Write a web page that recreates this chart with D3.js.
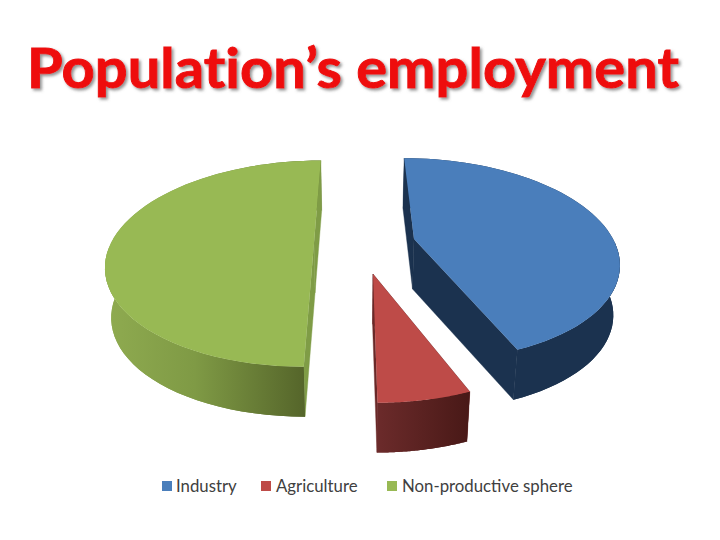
<!DOCTYPE html>
<html><head><meta charset="utf-8">
<script src="https://cdnjs.cloudflare.com/ajax/libs/d3/7.8.5/d3.min.js"></script>
<style>html,body{margin:0;padding:0;background:#fff}svg{display:block}</style>
</head><body><svg id="c" width="720" height="540"></svg>
<script>
const categories = ["Industry", "Agriculture", "Non-productive sphere"];
const shares = [44, 6, 50];
const titleText = "Population\u2019s employment";

const topColors = d3.scaleOrdinal(categories, ["#4a7ebb", "#be4b48", "#98b954"]);
const wallColors = d3.scaleOrdinal(categories, ["#1b324f", "#6a2928", "#7f9c46"]);
const apexX = d3.scaleOrdinal(categories, [414, 373, 314]);
const apexY = d3.scaleOrdinal(categories, [239, 274, 243]);
const radiusX = d3.scaleOrdinal(categories, [199, 205, 203]);
const radiusY = d3.scaleOrdinal(categories, [97, 103, 99]);
const legendX = d3.scaleOrdinal(categories, [162, 261, 387]);

const K = 0.2, DEPTH = 53, SHRINK = 0.975, VANISH_X = 355;
const svg = d3.select("#c");
const defs = svg.append("defs");

function grad(id, x1, x2, stops) {
  const g = defs.append("linearGradient").attr("id", id)
    .attr("gradientUnits", "userSpaceOnUse").attr("x1", x1).attr("x2", x2).attr("y1", 0).attr("y2", 0);
  stops.forEach(s => g.append("stop").attr("offset", s[0]).attr("stop-color", s[1]));
}
grad("gGreen", 105, 305, [[0, "#8fab50"], [0.45, "#7f9a45"], [1, "#55652a"]]);
grad("gRed", 376, 468, [[0, "#6c2b2b"], [1, "#491917"]]);
defs.append("filter").attr("id", "shadow").attr("x", "-5%").attr("y", "-20%").attr("width", "110%").attr("height", "140%")
  .append("feDropShadow").attr("dx", 2).attr("dy", 2).attr("stdDeviation", 1.5).attr("flood-color", "#777").attr("flood-opacity", 0.8);

const pie = d3.pie().value((d, i) => shares[i]).sort(null);
const arcs = pie(categories);
const line = d3.line();

function project(name, a, r, z) {
  const u = r * Math.sin(a), v = -r * Math.cos(a), w = 1 - K * v;
  const tilt = apexX(name) - VANISH_X;
  const x = VANISH_X + (radiusX(name) * u + tilt) / w;
  const y = apexY(name) + radiusY(name) * v / w;
  return z ? [VANISH_X + (x - VANISH_X) * SHRINK, y + radiusY(name) / (1 - K) * (SHRINK - 1) + DEPTH] : [x, y];
}
function arcPts(name, d, z) {
  return d3.range(0, 61).map(i => project(name, d.startAngle + (d.endAngle - d.startAngle) * i / 60, 1, z));
}
const wallFill = name => name === categories[2] ? "url(#gGreen)" : name === categories[1] ? "url(#gRed)" : wallColors(name);

const g = svg.append("g");
arcs.forEach(d => {
  const n = d.data;
  const top = arcPts(n, d, 0), bot = arcPts(n, d, 1);
  const cT = project(n, 0, 0, 0), cB = project(n, 0, 0, 1);
  const walls = [
    [cT, top[0], bot[0], cB],
    [cT, top[60], bot[60], cB]
  ];
  const gs = g.append("g").attr("class", "slice");
  gs.append("path").attr("class", "rim").attr("d", line(top.concat(bot.slice().reverse())) + "Z").attr("fill", wallFill(n));
  gs.selectAll("path.wall").data(walls).join("path").attr("class", "wall")
    .attr("d", w => line(w) + "Z").attr("fill", wallColors(n)).attr("stroke", wallColors(n)).attr("stroke-width", 0.4);
  // front-facing rim is repainted over the inner walls, only below the top face
  const front = d3.range(0, 61).filter(i => Math.cos(d.startAngle + (d.endAngle - d.startAngle) * i / 60) < 0);
  if (front.length) {
    const t = front.map(i => top[i]), b = front.map(i => bot[i]).reverse();
    gs.append("path").attr("class", "rim-front").attr("d", line(t.concat(b)) + "Z").attr("fill", wallFill(n));
  }
  gs.append("path").attr("class", "top").attr("d", line([cT].concat(top)) + "Z").attr("fill", topColors(n));
});

svg.append("text").attr("x", 27).attr("y", 88).attr("textLength", 652).attr("lengthAdjust", "spacingAndGlyphs")
  .attr("font-family", "Lato, sans-serif").attr("font-weight", 700).attr("font-size", 56)
  .style("font-variant-ligatures", "none")
  .attr("fill", "#ee0a0a").attr("stroke", "#ee0a0a").attr("stroke-width", 0.9).attr("filter", "url(#shadow)").text(titleText);

const leg = svg.append("g").selectAll("g").data(categories).join("g")
  .attr("transform", d => `translate(${legendX(d)},481)`);
leg.append("rect").attr("width", 10).attr("height", 10).attr("fill", d => topColors(d));
leg.append("text").attr("x", d => d === categories[0] ? 14 : 15).attr("y", 11)
  .attr("font-family", "Lato, sans-serif").attr("font-size", 16.8).attr("fill", "#404040").text(d => d);
</script></body></html>
